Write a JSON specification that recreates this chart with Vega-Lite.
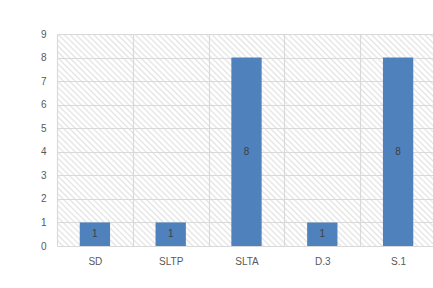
{
"$schema": "https://vega.github.io/schema/vega-lite/v6.json",
"width": 379, "height": 212,
"autosize": {"type": "none"},
"padding": {"left": 57, "top": 34, "right": 0, "bottom": 42},
"background": "white",
"config": {
 "font": "Liberation Sans",
 "view": {"stroke": null, "fill": {"gradient": "linear", "x1": 0, "y1": 1, "x2": 1.1877, "y2": 0.3356, "stops": [
{"offset":0,"color":"#e3e3e3"},{"offset":0.003,"color":"#fff"},{"offset":0.007,"color":"#fff"},
{"offset":0.01,"color":"#e3e3e3"},{"offset":0.013,"color":"#fff"},{"offset":0.017,"color":"#fff"},
{"offset":0.02,"color":"#e3e3e3"},{"offset":0.023,"color":"#fff"},{"offset":0.027,"color":"#fff"},
{"offset":0.03,"color":"#e3e3e3"},{"offset":0.033,"color":"#fff"},{"offset":0.037,"color":"#fff"},
{"offset":0.04,"color":"#e3e3e3"},{"offset":0.043,"color":"#fff"},{"offset":0.047,"color":"#fff"},
{"offset":0.05,"color":"#e3e3e3"},{"offset":0.053,"color":"#fff"},{"offset":0.057,"color":"#fff"},
{"offset":0.06,"color":"#e3e3e3"},{"offset":0.063,"color":"#fff"},{"offset":0.067,"color":"#fff"},
{"offset":0.07,"color":"#e3e3e3"},{"offset":0.073,"color":"#fff"},{"offset":0.077,"color":"#fff"},
{"offset":0.08,"color":"#e3e3e3"},{"offset":0.083,"color":"#fff"},{"offset":0.087,"color":"#fff"},
{"offset":0.09,"color":"#e3e3e3"},{"offset":0.093,"color":"#fff"},{"offset":0.097,"color":"#fff"},
{"offset":0.1,"color":"#e3e3e3"},{"offset":0.103,"color":"#fff"},{"offset":0.107,"color":"#fff"},
{"offset":0.11,"color":"#e3e3e3"},{"offset":0.113,"color":"#fff"},{"offset":0.117,"color":"#fff"},
{"offset":0.12,"color":"#e3e3e3"},{"offset":0.123,"color":"#fff"},{"offset":0.127,"color":"#fff"},
{"offset":0.13,"color":"#e3e3e3"},{"offset":0.133,"color":"#fff"},{"offset":0.137,"color":"#fff"},
{"offset":0.14,"color":"#e3e3e3"},{"offset":0.143,"color":"#fff"},{"offset":0.147,"color":"#fff"},
{"offset":0.15,"color":"#e3e3e3"},{"offset":0.153,"color":"#fff"},{"offset":0.157,"color":"#fff"},
{"offset":0.16,"color":"#e3e3e3"},{"offset":0.163,"color":"#fff"},{"offset":0.167,"color":"#fff"},
{"offset":0.17,"color":"#e3e3e3"},{"offset":0.173,"color":"#fff"},{"offset":0.177,"color":"#fff"},
{"offset":0.18,"color":"#e3e3e3"},{"offset":0.183,"color":"#fff"},{"offset":0.187,"color":"#fff"},
{"offset":0.19,"color":"#e3e3e3"},{"offset":0.193,"color":"#fff"},{"offset":0.197,"color":"#fff"},
{"offset":0.2,"color":"#e3e3e3"},{"offset":0.203,"color":"#fff"},{"offset":0.207,"color":"#fff"},
{"offset":0.21,"color":"#e3e3e3"},{"offset":0.213,"color":"#fff"},{"offset":0.217,"color":"#fff"},
{"offset":0.22,"color":"#e3e3e3"},{"offset":0.223,"color":"#fff"},{"offset":0.227,"color":"#fff"},
{"offset":0.23,"color":"#e3e3e3"},{"offset":0.233,"color":"#fff"},{"offset":0.237,"color":"#fff"},
{"offset":0.24,"color":"#e3e3e3"},{"offset":0.243,"color":"#fff"},{"offset":0.247,"color":"#fff"},
{"offset":0.25,"color":"#e3e3e3"},{"offset":0.253,"color":"#fff"},{"offset":0.257,"color":"#fff"},
{"offset":0.26,"color":"#e3e3e3"},{"offset":0.263,"color":"#fff"},{"offset":0.267,"color":"#fff"},
{"offset":0.27,"color":"#e3e3e3"},{"offset":0.273,"color":"#fff"},{"offset":0.277,"color":"#fff"},
{"offset":0.28,"color":"#e3e3e3"},{"offset":0.283,"color":"#fff"},{"offset":0.287,"color":"#fff"},
{"offset":0.29,"color":"#e3e3e3"},{"offset":0.293,"color":"#fff"},{"offset":0.297,"color":"#fff"},
{"offset":0.3,"color":"#e3e3e3"},{"offset":0.303,"color":"#fff"},{"offset":0.307,"color":"#fff"},
{"offset":0.31,"color":"#e3e3e3"},{"offset":0.313,"color":"#fff"},{"offset":0.317,"color":"#fff"},
{"offset":0.32,"color":"#e3e3e3"},{"offset":0.323,"color":"#fff"},{"offset":0.327,"color":"#fff"},
{"offset":0.33,"color":"#e3e3e3"},{"offset":0.333,"color":"#fff"},{"offset":0.337,"color":"#fff"},
{"offset":0.34,"color":"#e3e3e3"},{"offset":0.343,"color":"#fff"},{"offset":0.347,"color":"#fff"},
{"offset":0.35,"color":"#e3e3e3"},{"offset":0.353,"color":"#fff"},{"offset":0.357,"color":"#fff"},
{"offset":0.36,"color":"#e3e3e3"},{"offset":0.363,"color":"#fff"},{"offset":0.367,"color":"#fff"},
{"offset":0.37,"color":"#e3e3e3"},{"offset":0.373,"color":"#fff"},{"offset":0.377,"color":"#fff"},
{"offset":0.38,"color":"#e3e3e3"},{"offset":0.383,"color":"#fff"},{"offset":0.387,"color":"#fff"},
{"offset":0.39,"color":"#e3e3e3"},{"offset":0.393,"color":"#fff"},{"offset":0.397,"color":"#fff"},
{"offset":0.4,"color":"#e3e3e3"},{"offset":0.403,"color":"#fff"},{"offset":0.407,"color":"#fff"},
{"offset":0.41,"color":"#e3e3e3"},{"offset":0.413,"color":"#fff"},{"offset":0.417,"color":"#fff"},
{"offset":0.42,"color":"#e3e3e3"},{"offset":0.423,"color":"#fff"},{"offset":0.427,"color":"#fff"},
{"offset":0.43,"color":"#e3e3e3"},{"offset":0.433,"color":"#fff"},{"offset":0.437,"color":"#fff"},
{"offset":0.44,"color":"#e3e3e3"},{"offset":0.443,"color":"#fff"},{"offset":0.447,"color":"#fff"},
{"offset":0.45,"color":"#e3e3e3"},{"offset":0.453,"color":"#fff"},{"offset":0.457,"color":"#fff"},
{"offset":0.46,"color":"#e3e3e3"},{"offset":0.463,"color":"#fff"},{"offset":0.467,"color":"#fff"},
{"offset":0.47,"color":"#e3e3e3"},{"offset":0.473,"color":"#fff"},{"offset":0.477,"color":"#fff"},
{"offset":0.48,"color":"#e3e3e3"},{"offset":0.483,"color":"#fff"},{"offset":0.487,"color":"#fff"},
{"offset":0.49,"color":"#e3e3e3"},{"offset":0.493,"color":"#fff"},{"offset":0.497,"color":"#fff"},
{"offset":0.5,"color":"#e3e3e3"},{"offset":0.503,"color":"#fff"},{"offset":0.507,"color":"#fff"},
{"offset":0.51,"color":"#e3e3e3"},{"offset":0.513,"color":"#fff"},{"offset":0.517,"color":"#fff"},
{"offset":0.52,"color":"#e3e3e3"},{"offset":0.523,"color":"#fff"},{"offset":0.527,"color":"#fff"},
{"offset":0.53,"color":"#e3e3e3"},{"offset":0.533,"color":"#fff"},{"offset":0.537,"color":"#fff"},
{"offset":0.54,"color":"#e3e3e3"},{"offset":0.543,"color":"#fff"},{"offset":0.547,"color":"#fff"},
{"offset":0.55,"color":"#e3e3e3"},{"offset":0.553,"color":"#fff"},{"offset":0.557,"color":"#fff"},
{"offset":0.56,"color":"#e3e3e3"},{"offset":0.563,"color":"#fff"},{"offset":0.567,"color":"#fff"},
{"offset":0.57,"color":"#e3e3e3"},{"offset":0.573,"color":"#fff"},{"offset":0.577,"color":"#fff"},
{"offset":0.58,"color":"#e3e3e3"},{"offset":0.583,"color":"#fff"},{"offset":0.587,"color":"#fff"},
{"offset":0.59,"color":"#e3e3e3"},{"offset":0.593,"color":"#fff"},{"offset":0.597,"color":"#fff"},
{"offset":0.6,"color":"#e3e3e3"},{"offset":0.603,"color":"#fff"},{"offset":0.607,"color":"#fff"},
{"offset":0.61,"color":"#e3e3e3"},{"offset":0.613,"color":"#fff"},{"offset":0.617,"color":"#fff"},
{"offset":0.62,"color":"#e3e3e3"},{"offset":0.623,"color":"#fff"},{"offset":0.627,"color":"#fff"},
{"offset":0.63,"color":"#e3e3e3"},{"offset":0.633,"color":"#fff"},{"offset":0.637,"color":"#fff"},
{"offset":0.64,"color":"#e3e3e3"},{"offset":0.643,"color":"#fff"},{"offset":0.647,"color":"#fff"},
{"offset":0.65,"color":"#e3e3e3"},{"offset":0.653,"color":"#fff"},{"offset":0.657,"color":"#fff"},
{"offset":0.66,"color":"#e3e3e3"},{"offset":0.663,"color":"#fff"},{"offset":0.667,"color":"#fff"},
{"offset":0.67,"color":"#e3e3e3"},{"offset":0.673,"color":"#fff"},{"offset":0.677,"color":"#fff"},
{"offset":0.68,"color":"#e3e3e3"},{"offset":0.683,"color":"#fff"},{"offset":0.687,"color":"#fff"},
{"offset":0.69,"color":"#e3e3e3"},{"offset":0.693,"color":"#fff"},{"offset":0.697,"color":"#fff"},
{"offset":0.7,"color":"#e3e3e3"},{"offset":0.703,"color":"#fff"},{"offset":0.707,"color":"#fff"},
{"offset":0.71,"color":"#e3e3e3"},{"offset":0.713,"color":"#fff"},{"offset":0.717,"color":"#fff"},
{"offset":0.72,"color":"#e3e3e3"},{"offset":0.723,"color":"#fff"},{"offset":0.727,"color":"#fff"},
{"offset":0.73,"color":"#e3e3e3"},{"offset":0.733,"color":"#fff"},{"offset":0.737,"color":"#fff"},
{"offset":0.74,"color":"#e3e3e3"},{"offset":0.743,"color":"#fff"},{"offset":0.747,"color":"#fff"},
{"offset":0.75,"color":"#e3e3e3"},{"offset":0.753,"color":"#fff"},{"offset":0.757,"color":"#fff"},
{"offset":0.76,"color":"#e3e3e3"},{"offset":0.763,"color":"#fff"},{"offset":0.767,"color":"#fff"},
{"offset":0.77,"color":"#e3e3e3"},{"offset":0.773,"color":"#fff"},{"offset":0.777,"color":"#fff"},
{"offset":0.78,"color":"#e3e3e3"},{"offset":0.783,"color":"#fff"},{"offset":0.787,"color":"#fff"},
{"offset":0.79,"color":"#e3e3e3"},{"offset":0.793,"color":"#fff"},{"offset":0.797,"color":"#fff"},
{"offset":0.8,"color":"#e3e3e3"},{"offset":0.803,"color":"#fff"},{"offset":0.807,"color":"#fff"},
{"offset":0.81,"color":"#e3e3e3"},{"offset":0.813,"color":"#fff"},{"offset":0.817,"color":"#fff"},
{"offset":0.82,"color":"#e3e3e3"},{"offset":0.823,"color":"#fff"},{"offset":0.827,"color":"#fff"},
{"offset":0.83,"color":"#e3e3e3"},{"offset":0.833,"color":"#fff"},{"offset":0.837,"color":"#fff"},
{"offset":0.84,"color":"#e3e3e3"},{"offset":0.843,"color":"#fff"},{"offset":0.847,"color":"#fff"},
{"offset":0.85,"color":"#e3e3e3"},{"offset":0.853,"color":"#fff"},{"offset":0.857,"color":"#fff"},
{"offset":0.86,"color":"#e3e3e3"},{"offset":0.863,"color":"#fff"},{"offset":0.867,"color":"#fff"},
{"offset":0.87,"color":"#e3e3e3"},{"offset":0.873,"color":"#fff"},{"offset":0.877,"color":"#fff"},
{"offset":0.88,"color":"#e3e3e3"},{"offset":0.883,"color":"#fff"},{"offset":0.887,"color":"#fff"},
{"offset":0.89,"color":"#e3e3e3"},{"offset":0.893,"color":"#fff"},{"offset":0.897,"color":"#fff"},
{"offset":0.9,"color":"#e3e3e3"},{"offset":0.903,"color":"#fff"},{"offset":0.907,"color":"#fff"},
{"offset":0.91,"color":"#e3e3e3"},{"offset":0.913,"color":"#fff"},{"offset":0.917,"color":"#fff"},
{"offset":0.92,"color":"#e3e3e3"},{"offset":0.923,"color":"#fff"},{"offset":0.927,"color":"#fff"},
{"offset":0.93,"color":"#e3e3e3"},{"offset":0.933,"color":"#fff"},{"offset":0.937,"color":"#fff"},
{"offset":0.94,"color":"#e3e3e3"},{"offset":0.943,"color":"#fff"},{"offset":0.947,"color":"#fff"},
{"offset":0.95,"color":"#e3e3e3"},{"offset":0.953,"color":"#fff"},{"offset":0.957,"color":"#fff"},
{"offset":0.96,"color":"#e3e3e3"},{"offset":0.963,"color":"#fff"},{"offset":0.967,"color":"#fff"},
{"offset":0.97,"color":"#e3e3e3"},{"offset":0.973,"color":"#fff"},{"offset":0.977,"color":"#fff"},
{"offset":0.98,"color":"#e3e3e3"},{"offset":0.983,"color":"#fff"},{"offset":0.987,"color":"#fff"},
{"offset":0.99,"color":"#e3e3e3"},{"offset":0.993,"color":"#fff"},{"offset":0.997,"color":"#fff"},
{"offset":1,"color":"#e3e3e3"}
 ]}},
 "axis": {"labelFont": "Liberation Sans", "labelFontSize": 10, "labelColor": "#595959", "ticks": false, "domain": false, "gridColor": "#d9d9d9", "gridWidth": 1.2, "title": null}
},
"data": {"values": [
 {"cat": "SD", "n": 1},
 {"cat": "SLTP", "n": 1},
 {"cat": "SLTA", "n": 8},
 {"cat": "D.3", "n": 1},
 {"cat": "S.1", "n": 8}
]},
"encoding": {
 "x": {"field": "cat", "type": "nominal", "sort": null, "scale": {"paddingInner": 0, "paddingOuter": 0},
   "axis": {"labelAngle": 0, "labelPadding": 10, "grid": true, "tickBand": "extent"}}
},
"layer": [
 {"mark": {"type": "bar", "width": {"band": 0.4}, "color": "#4f81bd"},
  "encoding": {"y": {"field": "n", "type": "quantitative", "scale": {"domain": [0, 9], "nice": false},
    "axis": {"values": [0,1,2,3,4,5,6,7,8,9], "labelPadding": 11, "grid": true, "labelOverlap": false}}}},
 {"transform": [{"calculate": "datum.n / 2", "as": "mid"}],
  "mark": {"type": "text", "color": "#404040", "fontSize": 10, "baseline": "middle", "font": "Liberation Sans"},
  "encoding": {"y": {"field": "mid", "type": "quantitative",
    "axis": {"values": [0,1,2,3,4,5,6,7,8,9], "labelPadding": 11, "grid": true, "labelOverlap": false}}, "text": {"field": "n", "type": "quantitative"}}}
]
}
